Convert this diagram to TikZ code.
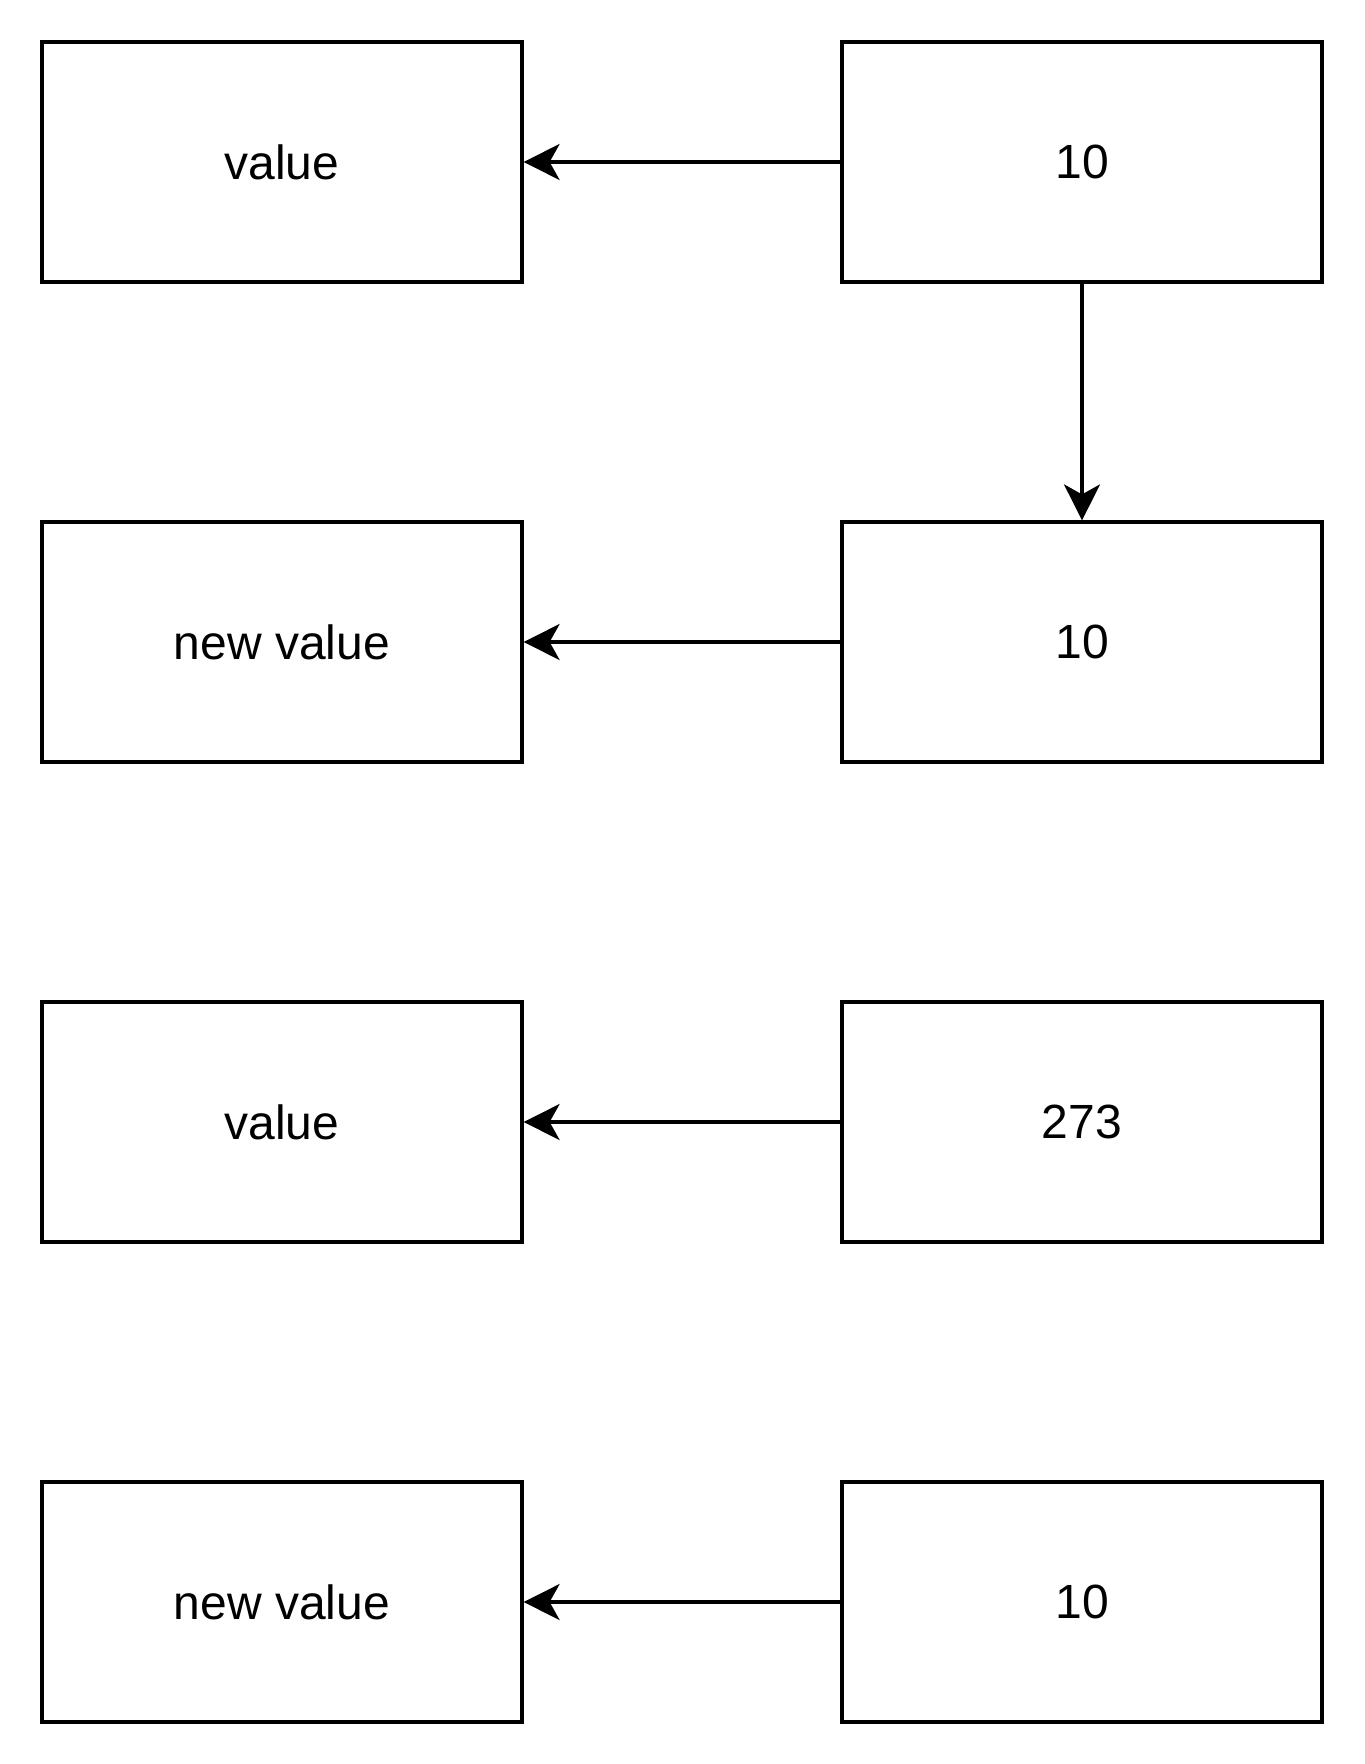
\documentclass[tikz,border=0pt]{standalone}
\usepackage{fontspec}
\setmainfont{Liberation Sans}
\usetikzlibrary{arrows.meta}
\usetikzlibrary{positioning}

\begin{document}
\begin{tikzpicture}[
    x=1pt, y=1pt,
    link/.style={
      line width=0.8pt,
      -{Stealth[length=9pt, width=9pt, inset=2.5pt]}
    },
    cell/.style={
      draw=black,
      fill=white,
      line width=0.8pt,
      minimum width=120pt,
      minimum height=60pt,
      inner sep=0pt,
      font=\fontsize{12}{14}\selectfont,
      rectangle
    }
  ]
  \useasboundingbox (0,0) rectangle (341,-441);

  % first row
  \node[cell] (V1) at (70.5,-40.5) {value};
  \node[cell] (N1) at (270.5,-40.5) {10};
  \draw[link] (N1.west) -- (V1.east);

  % second row
  \node[cell] (V2) at (70.5,-160.5) {new value};
  \node[cell] (N2) at (270.5,-160.5) {10};
  \draw[link] (N2.west) -- (V2.east);
  \draw[link] (N1.south) -- (N2.north);

  % third row
  \node[cell] (V3) at (70.5,-280.5) {value};
  \node[cell] (N3) at (270.5,-280.5) {273};
  \draw[link] (N3.west) -- (V3.east);

  % fourth row
  \node[cell] (V4) at (70.5,-400.5) {new value};
  \node[cell] (N4) at (270.5,-400.5) {10};
  \draw[link] (N4.west) -- (V4.east);
\end{tikzpicture}
\end{document}
